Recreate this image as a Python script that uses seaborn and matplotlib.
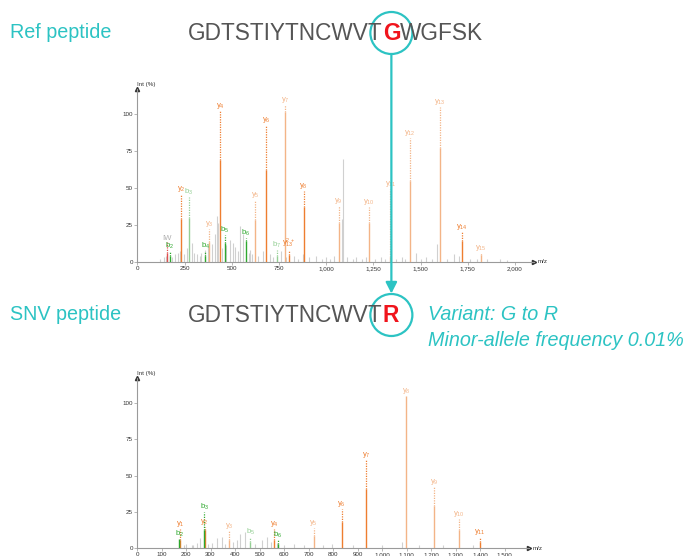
import matplotlib
matplotlib.use("Agg")
import matplotlib.pyplot as plt
import seaborn as sns
from matplotlib.patches import Ellipse

# ---------------- data ----------------
ref_sequence = "GDTSTIYTNCWVT"
ref_site = "G"
ref_tail = "WGFSK"
snv_sequence = "GDTSTIYTNCWVT"
snv_site = "R"
variant_lines = ["Variant: G to R", "Minor-allele frequency 0.01%"]

# Reference spectrum: annotated fragment ions
top_y_labels = ["y_{2}", "y_{3}", "y_{4}", "y_{5}", "y_{6}", "y_{7}", "y_{13}^{2+}", "y_{8}",
                "y_{9}", "y_{10}", "y_{11}", "y_{12}", "y_{13}", "y_{14}", "y_{15}"]
top_y_mz = [234, 381, 438, 624, 681, 782, 803, 881, 1067, 1227, 1341, 1442, 1605, 1718, 1819]
top_y_int = [29, 13.5, 69, 28.5, 62.5, 101.5, 4.5, 37, 26, 26, 3, 55, 77, 14, 4.6]
top_y_lab = [46, 22, 102, 42, 93, 106, 8, 48, 38, 37, 49, 84, 105, 20, 6]

top_b_labels = ["b_{2}", "b_{3}", "b_{4}", "b_{5}", "b_{6}", "b_{7}"]
top_b_mz = [173, 274, 361, 462, 575, 738]
top_b_int = [4, 29.4, 4, 13, 14, 4]
top_b_lab = [7.5, 44, 7, 18, 16, 8]

top_imm_label = "IW"
top_imm_mz = [159]
top_imm_int = [5.7]
top_imm_lab = [13.5]

top_bg_mz = [120, 140, 150, 186, 200, 215, 226, 245, 261, 288, 300, 315, 330, 340, 357, 372,
             395, 412, 424, 430, 448, 470, 489, 507, 520, 532, 542, 560, 590, 596, 610, 640,
             666, 702, 720, 763, 790, 830, 850, 878, 910, 949, 980, 1000, 1020, 1040, 1085,
             1090, 1110, 1140, 1160, 1190, 1210, 1260, 1290, 1310, 1370, 1400, 1420, 1475,
             1500, 1530, 1560, 1590, 1640, 1680, 1705, 1760, 1800, 1850, 1920, 1960]
top_bg_int = [2, 3, 4, 3, 5, 6, 7, 5, 9, 13, 6, 5, 4, 6, 8, 10,
              12, 19, 31, 26, 9, 11, 15, 13, 10, 7, 24, 19, 6, 8, 5, 4,
              7, 5, 3, 7, 3, 4, 2, 5, 3, 4, 2, 3, 2, 4, 29,
              70, 3, 2, 3, 2, 3, 2, 3, 2, 2, 3, 2, 6,
              2, 3, 2, 12, 2, 5, 4, 2, 2, 2, 2, 1]

# SNV spectrum
bot_y_labels = ["y_{1}", "y_{2}", "y_{3}", "y_{4}", "y_{5}", "y_{6}", "y_{7}", "y_{8}",
                "y_{9}", "y_{10}", "y_{11}"]
bot_y_mz = [175, 276, 375, 561, 721, 835, 936, 1099, 1212, 1313, 1400]
bot_y_int = [5.7, 12.6, 6, 6, 8.7, 18, 41, 104.5, 29, 12.6, 4.5]
bot_y_lab = [13, 15, 12, 13.5, 14, 27, 61, 105, 42, 20, 8]

bot_b_labels = ["b_{2}", "b_{3}", "b_{5}", "b_{6}"]
bot_b_mz = [173, 274, 462, 575]
bot_b_int = [6.5, 12.6, 4, 3]
bot_b_lab = [6.5, 25, 8, 5.5]

bot_bg_mz = [190, 200, 223, 230, 243, 257, 290, 305, 328, 346, 360, 390, 407, 420, 441, 480,
             509, 529, 545, 570, 600, 640, 680, 760, 794, 880, 1000, 1080, 1150, 1250, 1370]
bot_bg_int = [2, 3, 2.4, 2.4, 3.5, 7, 3, 3.5, 7, 8, 3, 4, 5.8, 10, 11.5, 3,
              5.8, 8, 4, 3.5, 2, 3, 2, 2, 3, 2, 2, 4.6, 2, 2, 2]

top_xticks = [0, 250, 500, 750, 1000, 1250, 1500, 1750, 2000]
bot_xticks = [0, 100, 200, 300, 400, 500, 600, 700, 800, 900, 1000, 1100, 1200, 1300, 1400, 1500]
yticks = [0, 25, 50, 75, 100]

# ---------------- style ----------------
sns.set_theme(style="white")
plt.rcParams["font.family"] = ["Liberation Sans", "DejaVu Sans"]
plt.rcParams["mathtext.fontset"] = "custom"
plt.rcParams["mathtext.rm"] = "Liberation Sans"

TEAL = "#2CC3C3"
ORANGE = "#EE7E30"
ORANGE_L = "#F3B487"
GREEN = "#2EA82E"
GREEN_L = "#94CF94"
GREY = "#D0D0D0"
AXC = "#9A9A9A"
RED = "#F0141C"

top_strong = {"y_{2}", "y_{4}", "y_{6}", "y_{8}", "y_{14}", "y_{13}^{2+}", "b_{2}", "b_{4}", "b_{5}", "b_{6}"}
bot_strong = {"y_{1}", "y_{2}", "y_{4}", "y_{6}", "y_{7}", "y_{11}", "b_{2}", "b_{3}", "b_{6}"}

W, H = 686, 556
fig = plt.figure(figsize=(W / 100, H / 100), dpi=100)


def px_axes(x0, y_base, width, height):
    return fig.add_axes([x0 / W, (H - y_base) / H, width / W, height / H])


def draw_spectrum(ax, xmax, xticks, bg_mz, bg_int, groups, strong):
    ax.set_xlim(0, xmax)
    ax.set_ylim(0, 117)
    ax.vlines(bg_mz, 0, bg_int, color=GREY, lw=0.8, zorder=1)
    for labels, mz, inten, lab, cdark, clight in groups:
        for l, m, i, t in zip(labels, mz, inten, lab):
            c = cdark if l in strong else clight
            ax.vlines(m, 0, i, color=c, lw=1.0, zorder=3)
            if t > i:
                ax.plot([m, m], [i, t], color=c, lw=0.9, ls=(0, (1, 1)), zorder=3)
            txt = "$\\mathregular{" + l + "}$" if l != "IW" else l
            ax.text(m, t, txt, ha="center", va="bottom", fontsize=5.6, color=c if l != "IW" else "#B0B0B0",
                    zorder=4)
    ax.set_xticks(xticks)
    ax.set_xticklabels([f"{v:,}" for v in xticks])
    ax.set_yticks(yticks)
    sns.despine(ax=ax)
    for s in ["left", "bottom"]:
        ax.spines[s].set_color(AXC)
        ax.spines[s].set_linewidth(0.8)
    ax.tick_params(axis="both", which="both", length=2, width=0.5, color=AXC, labelsize=4.5,
                   labelcolor="#333333", pad=1, left=True, bottom=True)
    ax.plot(1, 0, ">", color="#333333", ms=3, transform=ax.transAxes, clip_on=False)
    ax.plot(0, 1, "^", color="#333333", ms=3, transform=ax.transAxes, clip_on=False)
    ax.text(0, 1.015, "Int (%)", transform=ax.transAxes, fontsize=4.5, ha="left", va="bottom", color="#333333")
    ax.text(1.01, 0, "m/z", transform=ax.transAxes, fontsize=4.5, ha="left", va="center", color="#333333")
    ax.set_facecolor("none")


ax1 = px_axes(137.3, 261.7, 2100 * 0.1888, 117 * 1.474)
draw_spectrum(ax1, 2100, top_xticks, top_bg_mz, top_bg_int,
              [(top_y_labels, top_y_mz, top_y_int, top_y_lab, ORANGE, ORANGE_L),
               (top_b_labels, top_b_mz, top_b_int, top_b_lab, GREEN, GREEN_L),
               ([top_imm_label], top_imm_mz, top_imm_int, top_imm_lab, "#E05050", "#E05050")],
              top_strong | {"IW"})

ax2 = px_axes(137.0, 548.3, 1600 * 0.245, 117 * 1.453)
draw_spectrum(ax2, 1600, bot_xticks, bot_bg_mz, bot_bg_int,
              [(bot_y_labels, bot_y_mz, bot_y_int, bot_y_lab, ORANGE, ORANGE_L),
               (bot_b_labels, bot_b_mz, bot_b_int, bot_b_lab, GREEN, GREEN_L)],
              bot_strong)

# ---------------- overlay (text, circles, arrow) ----------------
ov = fig.add_axes([0, 0, 1, 1], zorder=10)
ov.set_xlim(0, W)
ov.set_ylim(H, 0)
ov.axis("off")
ov.patch.set_alpha(0)

seq_fs = 16.3
lab_fs = 14.2
Y1, Y2 = 33, 315
ov.text(10, Y1, "Ref peptide", color=TEAL, fontsize=lab_fs, va="center", ha="left")
ov.text(10, Y2, "SNV peptide", color=TEAL, fontsize=lab_fs, va="center", ha="left")

t1 = ov.text(188, Y1, ref_sequence, color="#555555", fontsize=seq_fs, va="center", ha="left")
fig.canvas.draw()
r = fig.canvas.get_renderer()
bb = t1.get_window_extent(renderer=r)
x_end = bb.x1 / fig.dpi * 100
t2 = ov.text(x_end, Y1, ref_site, color=RED, fontsize=seq_fs, va="center", ha="left", weight="bold")
bb2 = t2.get_window_extent(renderer=r)
x_end2 = bb2.x1 / fig.dpi * 100
ov.text(x_end2, Y1, ref_tail, color="#555555", fontsize=seq_fs, va="center", ha="left")
gx = (bb2.x0 + bb2.x1) / 2 / fig.dpi * 100

t3 = ov.text(188, Y2, snv_sequence, color="#555555", fontsize=seq_fs, va="center", ha="left")
bb3 = t3.get_window_extent(renderer=r)
t4 = ov.text(bb3.x1 / fig.dpi * 100, Y2, snv_site, color=RED, fontsize=seq_fs, va="center", ha="left",
             weight="bold")

R = 21
ov.add_patch(Ellipse((gx, Y1), 2 * R, 2 * R, fill=False, ec=TEAL, lw=1.6))
ov.add_patch(Ellipse((gx, Y2), 2 * R, 2 * R, fill=False, ec=TEAL, lw=1.6))
ov.annotate("", xy=(gx, Y2 - R - 0.5), xytext=(gx, Y1 + R),
            arrowprops=dict(arrowstyle="-|>,head_length=0.55,head_width=0.28", color=TEAL, lw=1.6,
                            shrinkA=0, shrinkB=0))

ov.text(428, Y2, variant_lines[0], color=TEAL, fontsize=lab_fs, style="italic", va="center", ha="left")
ov.text(428, Y2 + 25, variant_lines[1], color=TEAL, fontsize=lab_fs, style="italic", va="center", ha="left")

fig.savefig("out.png", dpi=100)
